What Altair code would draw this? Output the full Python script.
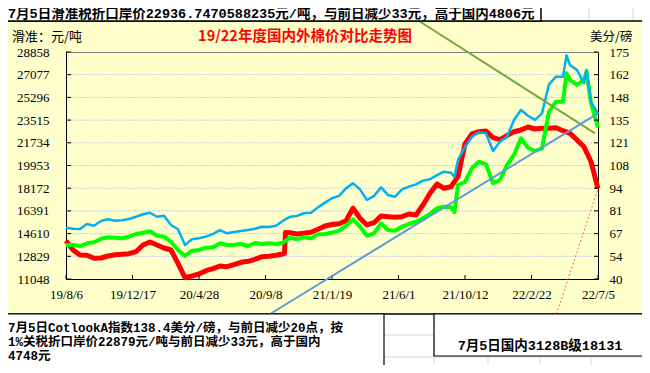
import altair as alt
import pandas as pd

# ---------------- data ----------------
START_DATE = "2019-08-06"
END_DATE = "2022-07-05"
STEP = "14D"
N_POINTS = 77

# 国内3128B (元/吨, left axis)
red_vals = [14053, 13323, 12931, 12908, 12672, 12696, 12853, 12955, 12986, 13033,
            13190, 13716, 13951, 13716, 13480, 13323, 12280, 11150, 11283, 11440,
            11699, 11856, 12068, 12013, 12170, 12358, 12437, 12594, 12798, 12829,
            12908, 13010, 14681, 14579, 14634, 14712, 14947, 15206, 15324, 15387,
            15622, 16595, 15810, 15285, 15465, 15991, 15936, 15889, 15936, 16148,
            16069, 16854, 17772, 18502, 18164, 18290, 19075, 21640, 22425, 22605,
            22660, 22134, 21977, 22291, 22605, 22739, 22974, 22817, 22872, 22872,
            22919, 22684, 22480, 21954, 21428, 20251, 18131]
red_extra_dates = ["2020-10-16", "2020-10-18"]
red_extra_vals = [13050, 14700]

# 滑准税折口岸价 (元/吨, left axis)
green_vals = [13716, 13716, 13637, 13849, 13928, 14210, 14320, 14288, 14241, 14367,
              14579, 14681, 14791, 14445, 14367, 13975, 13323, 12853, 13268, 13323,
              13504, 13535, 13849, 13716, 13739, 13794, 13637, 13873, 13794, 13849,
              13794, 13896, 14288, 14163, 14320, 14241, 14555, 14579, 14681, 14838,
              15206, 15732, 15151, 14445, 14634, 15418, 14893, 14838, 15151, 15363,
              15544, 15810, 16148, 16595, 16721, 16674, 18423, 18659, 19757, 20251,
              20047, 18557, 18816, 19992, 20777, 22087, 21350, 21091, 21303, 24174,
              24959, 24959, 26662, 26269, 26662, 24857, 22936]
green_extra_dates = ["2021-09-21", "2022-05-03", "2022-06-12"]
green_extra_vals = [16305, 27190, 27300]

# Cotlook A (美分/磅, right axis)
cyan_vals = [70.5, 69.9, 69.7, 72.7, 71.7, 74.5, 75.5, 74.7, 74.9, 75.7,
             77.0, 78.5, 79.4, 77.0, 77.6, 72.1, 69.6, 60.2, 63.6, 64.2,
             65.2, 66.8, 69.1, 67.2, 68.0, 68.5, 69.1, 69.9, 71.1, 70.9,
             71.7, 74.7, 77.0, 77.5, 79.1, 79.4, 82.6, 85.4, 88.0, 89.4,
             93.9, 96.9, 93.3, 87.0, 89.4, 94.5, 90.0, 88.9, 93.3, 94.9,
             96.3, 98.5, 99.3, 101.8, 103.8, 103.2, 110.8, 118.5, 124.6, 127.2,
             126.6, 116.1, 121.7, 124.6, 134.6, 140.5, 137.1, 134.6, 138.5, 155.8,
             160.3, 160.3, 167.3, 164.3, 156.4, 145.4, 138.4]
cyan_extra_dates = ["2021-09-21", "2022-05-03", "2022-06-12"]
cyan_extra_vals = [100.7, 173.0, 164.5]

# trend lines (left axis units)
green_trend_dates = ["2021-07-12", "2022-06-29"]
green_trend_vals = [31291, 22480]
blue_trend_dates = ["2020-09-17", "2022-07-05"]
blue_trend_vals = [8302, 24049]
red_trend_dates = ["2022-04-13", "2022-07-05"]
red_trend_vals = [8302, 18131]

x_tick_dates = ["2019-08-06", "2019-12-17", "2020-04-28", "2020-09-08", "2021-01-19",
                "2021-06-01", "2021-10-12", "2022-02-22", "2022-07-05"]
left_ticks = [11048, 12829, 14610, 16391, 18172, 19953, 21734, 23515, 25296, 27077, 28858]
right_ticks = [40, 53.5, 67, 80.5, 94, 107.5, 121, 134.5, 148, 161.5, 175]

top_text = "7月5日滑准税折口岸价22936.7470588235元/吨，与前日减少33元，高于国内4806元"
bottom_lines = ["7月5日CotlookA指数138.4美分/磅，与前日减少20点，按",
                "1%关税折口岸价22879元/吨与前日减少33元，高于国内",
                "4748元"]
right_box_text = "7月5日国内3128B级18131"
chart_title = "19/22年度国内外棉价对比走势图"
left_unit = "滑准：元/吨"
right_unit = "美分/磅"

# ---------------- helpers ----------------
base_dates = pd.date_range(START_DATE, periods=N_POINTS, freq=STEP).strftime("%Y-%m-%d").tolist()


def series_df(vals, extra_d, extra_v, col):
    d = pd.DataFrame({"date": base_dates + extra_d, col: vals + extra_v})
    return d.sort_values("date").reset_index(drop=True)


def ts(d):
    return int(pd.Timestamp(d, tz="UTC").timestamp() * 1000)


SERIF = "Liberation Serif"
CJK = "Noto Sans CJK SC"
MIX = "Liberation Mono, Noto Sans CJK SC"
OX, OY = 66, 52  # page position of plot origin
W, H = 532, 227


def px(x):
    return x - OX


def py(y):
    return y - OY


one = pd.DataFrame({"k": [0]})


def rect(x1, y1, x2, y2, **kw):
    return alt.Chart(one).mark_rect(**kw).encode(
        x=alt.value(px(x1)), x2=alt.value(px(x2)), y=alt.value(py(y1)), y2=alt.value(py(y2)))


def vrule(x, y1, y2, color="#D4D4D4"):
    return alt.Chart(one).mark_rule(color=color, strokeWidth=1).encode(
        x=alt.value(px(x)), y=alt.value(py(y1)), y2=alt.value(py(y2)))


def hrule(x1, x2, y, color="#D4D4D4"):
    return alt.Chart(one).mark_rule(color=color, strokeWidth=1).encode(
        x=alt.value(px(x1)), x2=alt.value(px(x2)), y=alt.value(py(y)))


def text(x, y, s, **kw):
    return alt.Chart(one).mark_text(text=s, baseline="middle", **kw).encode(
        x=alt.value(px(x)), y=alt.value(py(y)))


x_scale = alt.Scale(type="utc", domain=[ts(START_DATE), ts(END_DATE)])
x_axis = alt.Axis(values=[ts(d) for d in x_tick_dates], format="%y/%-m/%-d", title=None,
                  labelFont=SERIF, labelFontSize=13, labelColor="black", labelPadding=9,
                  ticks=False, domainColor="black", domainWidth=1, grid=False,
                  labelFlush=False, labelOverlap=False)
left_axis = alt.Axis(values=left_ticks, orient="left", title=None, format="d",
                     labelFont=SERIF, labelFontSize=13, labelColor="black", labelPadding=17,
                     ticks=False, domainColor="black", domainWidth=1, grid=False,
                     labelOverlap=False)
right_axis = alt.Axis(values=right_ticks, orient="right", title=None, format=".0f",
                      labelFont=SERIF, labelFontSize=13, labelColor="black", labelPadding=11,
                      ticks=False, domainColor="black", domainWidth=1, grid=False,
                      labelOverlap=False)


def XE():
    return alt.X("date:T", scale=x_scale, axis=x_axis)


def YL(axis=None):
    return alt.Y("v:Q", scale=alt.Scale(domain=[11048, 28858], nice=False, zero=False), axis=axis)


def YR(axis=None):
    return alt.Y("c:Q", scale=alt.Scale(domain=[40, 175], nice=False, zero=False), axis=axis)


red_df = series_df(red_vals, red_extra_dates, red_extra_vals, "v")
green_df = series_df(green_vals, green_extra_dates, green_extra_vals, "v")
cyan_df = series_df(cyan_vals, cyan_extra_dates, cyan_extra_vals, "c")

# ---------------- layers ----------------
before = [
    rect(0, 314, 650, 380, fill="white"),
    rect(0, 0, 650, 21, fill="white"),
    vrule(434, 314, 373), vrule(488, 356, 373), vrule(540, 356, 373), vrule(591, 356, 373),
    hrule(384, 434, 335), hrule(384, 650, 357),
    vrule(589, 0, 21), vrule(633, 0, 21),
    rect(0, 21, 648, 314, fillOpacity=0, stroke="black", strokeWidth=1.5),
]

grid = alt.Chart(pd.DataFrame({"v": left_ticks[1:-1]})).mark_rule(
    color="#C4CCF0", strokeWidth=1, strokeDash=[2, 1]).encode(y=YL())

red_line = alt.Chart(red_df).mark_line(color="#FF0000", strokeWidth=5, strokeJoin="round").encode(
    x=XE(), y=YL(left_axis))
green_line = alt.Chart(green_df).mark_line(color="#00FF00", strokeWidth=4, strokeJoin="round").encode(
    x=XE(), y=YL())
cyan_line = alt.Chart(cyan_df).mark_line(color="#00B0F0", strokeWidth=2.5, strokeJoin="round").encode(
    x=XE(), y=YR(right_axis))

left_tk = alt.Chart(pd.DataFrame({"v": left_ticks})).mark_rule(color="black").encode(
    y=YL(), x=alt.value(0), x2=alt.value(5))
right_tk = alt.Chart(pd.DataFrame({"c": right_ticks})).mark_rule(color="black").encode(
    y=YR(), x=alt.value(W - 4), x2=alt.value(W))
bottom_tk = alt.Chart(pd.DataFrame({"date": x_tick_dates})).mark_rule(color="black").encode(
    x=XE(), y=alt.value(H - 4), y2=alt.value(H))

g_trend = alt.Chart(pd.DataFrame({"date": green_trend_dates, "v": green_trend_vals})).mark_line(
    color="#77A844", strokeWidth=2).encode(x=XE(), y=YL())
b_trend = alt.Chart(pd.DataFrame({"date": blue_trend_dates, "v": blue_trend_vals})).mark_line(
    color="#5B9BD5", strokeWidth=2).encode(x=XE(), y=YL())
r_trend = alt.Chart(pd.DataFrame({"date": red_trend_dates, "v": red_trend_vals})).mark_line(
    color="#FF6060", strokeWidth=1, strokeDash=[2, 2]).encode(x=XE(), y=YL())

after = [
    rect(0, 0, 541, 21, fill="white", stroke="black", strokeWidth=1.5),
    text(8, 14, top_text, font=MIX, fontSize=13.5, fontWeight="bold", color="black", align="left"),
    rect(0, 314, 384, 380, fill="white", stroke="black", strokeWidth=1.2),
    text(8, 328, bottom_lines[0], font=MIX, fontSize=12.5, fontWeight="bold", color="black", align="left"),
    text(8, 342, bottom_lines[1], font=MIX, fontSize=12.5, fontWeight="bold", color="black", align="left"),
    text(8, 356, bottom_lines[2], font=MIX, fontSize=12.5, fontWeight="bold", color="black", align="left"),
    rect(434, 314, 648, 356, fill="white", stroke="black", strokeWidth=1.2),
    text(540, 346, right_box_text, font=MIX, fontSize=13.5, fontWeight="bold", color="black", align="center"),
    text(12, 37, left_unit, font=CJK, fontSize=13, color="black", align="left"),
    text(305, 37, chart_title, font=CJK, fontSize=14.5, fontWeight="bold", color="#FF0000", align="center"),
    text(590, 37, right_unit, font=CJK, fontSize=12.5, color="black", align="left"),
]

layers = before + [grid, red_line, green_line, cyan_line, left_tk, right_tk, bottom_tk,
                   g_trend, b_trend, r_trend] + after

chart = alt.layer(*layers).resolve_scale(y="independent").properties(
    width=W, height=H,
    padding={"left": OX - 8, "top": OY - 8, "right": 650 - 8 - OX - W, "bottom": 373 - 8 - OY - H},
    autosize=alt.AutoSizeParams(type="none"),
    background="#FFFFCC",
).configure_view(stroke="#808080", strokeWidth=1)

chart.save("out.html", embed_options={"renderer": "svg", "actions": False})
